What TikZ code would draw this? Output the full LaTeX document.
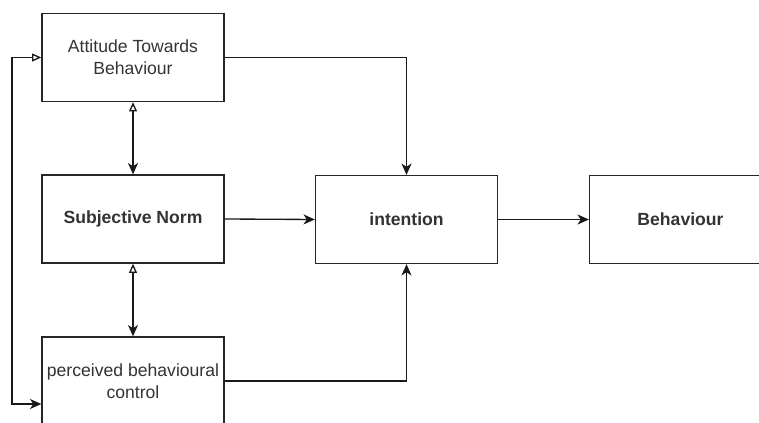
\documentclass[tikz,border=0pt]{standalone}
\usepackage{fontspec}
\setmainfont{Liberation Sans}
\usetikzlibrary{arrows.meta,positioning}

\tikzset{
  box/.style={draw=black!85, line width=1pt, minimum width=136.5pt,
    minimum height=66pt, align=center, text=black!80,
    font=\fontsize{13.2}{16.5}\selectfont},
  link/.style={draw=black!90, line width=1pt,
    -{Stealth[length=8.5pt,width=7.5pt,inset=2.5pt]}},
  openlink/.style={draw=black!90, line width=1pt,
    -{Triangle[open,length=7pt,width=6pt]}},
  twoway/.style={draw=black!90, line width=1pt,
    {Triangle[open,length=7pt,width=6pt]}-{Stealth[length=8.5pt,width=7.5pt,inset=2.5pt]}}
}

\begin{document}
\begin{tikzpicture}[x=0.75pt, y=-0.75pt]
        \useasboundingbox (0,0) rectangle (759,423);

        % Boxes on the left
        \node[box] (att) at (133,57.5) {Attitude Towards\\Behaviour};
        \node[box, font=\fontsize{13.2}{16.5}\selectfont\bfseries] (norm) at (133,219) {Subjective Norm};
        \node[box] (pbc) at (133,381) {perceived behavioural\\control};

        % Boxes on the right
        \node[box, font=\fontsize{13.2}{16.5}\selectfont\bfseries] (int) at (406.5,219.5) {intention};
        \node[box, font=\fontsize{13.2}{16.5}\selectfont\bfseries] (beh) at (680.5,219.5) {Behaviour};

        % Links into intention
        \draw[link] (att.east) -| (int.north);
        \draw[link] (norm.east) -- (int.west);
        \draw[link] (pbc.east) -| (int.south);
        \draw[link] (int.east) -- (beh.west);

        % Two-way links between the left boxes
        \draw[twoway] (att.south) -- (norm.north);
        \draw[twoway] (norm.south) -- (pbc.north);

        % Loop on the far left
        \coordinate (pin) at ([yshift=-17.25pt]pbc.west);
        \coordinate (lt) at (12,57.5);
        \coordinate (lb) at (12,404);
        \draw[openlink] (lb) -- (lt) -- (att.west);
        \draw[link] (lt) -- (lb) -- (pin);
    \end{tikzpicture}
\end{document}
